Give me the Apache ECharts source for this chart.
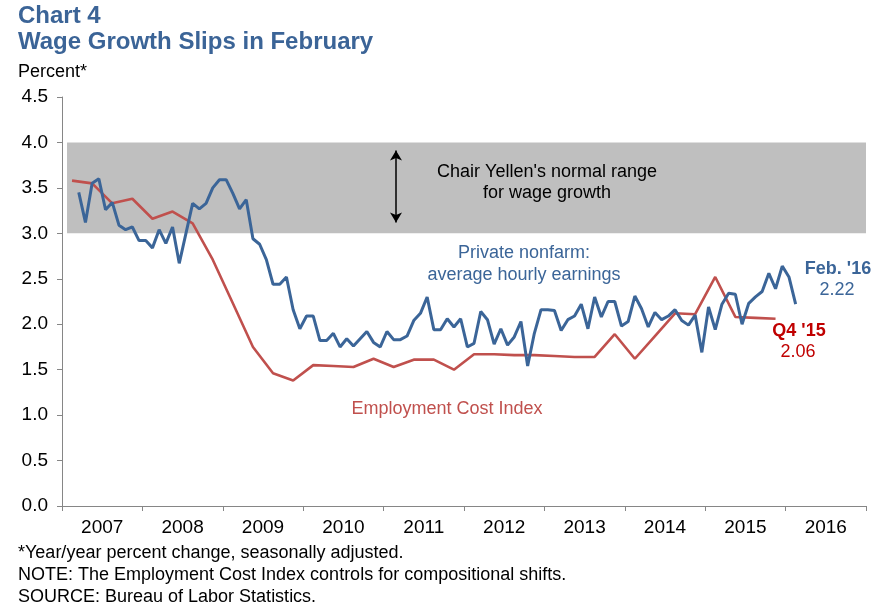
<!DOCTYPE html>
<html>
<head>
<meta charset="utf-8">
<style>
  html, body { margin: 0; padding: 0; background: #fff; }
  #chart { width: 891px; height: 616px; }
</style>
<script src="https://cdn.jsdelivr.net/npm/echarts@6/dist/echarts.min.js"></script>
</head>
<body>
<div id="chart"></div>
<script>
// Year labels on the x axis
const years = ['2007','2008','2009','2010','2011','2012','2013','2014','2015','2016'];

// Private nonfarm average hourly earnings, y/y % — monthly, Mar 2007 .. Feb 2016
const aheStart = { year: 2007, month: 3 };
const aheValues = [
  3.45, 3.12, 3.55, 3.60, 3.26, 3.34, 3.09, 3.04, 3.07, 2.92,             // 2007 Mar-Dec
  2.92, 2.84, 3.04, 2.89, 3.07, 2.67, 3.00, 3.33, 3.27, 3.33, 3.50, 3.59, // 2008
  3.59, 3.44, 3.27, 3.37, 2.94, 2.88, 2.71, 2.44, 2.44, 2.52, 2.16, 1.95, // 2009
  2.09, 2.09, 1.82, 1.82, 1.90, 1.75, 1.84, 1.76, 1.84, 1.92, 1.80, 1.75, // 2010
  1.92, 1.83, 1.83, 1.87, 2.04, 2.12, 2.30, 1.94, 1.94, 2.06, 1.97, 2.06, // 2011
  1.75, 1.79, 2.14, 2.05, 1.78, 1.95, 1.77, 1.86, 2.03, 1.54, 1.90, 2.16, // 2012
  2.16, 2.15, 1.93, 2.05, 2.09, 2.22, 1.95, 2.30, 2.08, 2.25, 2.25, 1.98, // 2013
  2.03, 2.31, 2.17, 1.97, 2.13, 2.05, 2.09, 2.16, 2.04, 1.99, 2.10, 1.69, // 2014
  2.19, 1.94, 2.22, 2.34, 2.33, 2.00, 2.23, 2.30, 2.36, 2.56, 2.39, 2.64, // 2015
  2.52, 2.22                                                              // 2016 Jan-Feb
];

// Employment Cost Index, y/y % — quarterly, Q1 2007 .. Q4 2015 (plotted at mid-quarter month)
const eciStart = { year: 2007, quarter: 1 };
const eciValues = [
  3.58, 3.55, 3.33, 3.38,
  3.16, 3.24, 3.11, 2.71,
  2.23, 1.75, 1.46, 1.38,
  1.55, 1.54, 1.53, 1.62,
  1.53, 1.61, 1.61, 1.50,
  1.67, 1.67, 1.66, 1.66,
  1.65, 1.64, 1.64, 1.89,
  1.62, 1.87, 2.12, 2.11,
  2.52, 2.08, 2.07, 2.06
];

// Chair Yellen's normal range
const normalRange = [3.0, 4.0];

const FONT = '"Liberation Sans", Arial, sans-serif';
const BLUE = '#3b6598';
const RED = '#c0504d';
const DARKRED = '#c00000';
const TITLE_BLUE = '#3b6497';

// months since Jan 2007, centred in the month
function monthPos(year, month) { return (year - 2007) * 12 + (month - 1) + 0.5; }

const aheData = aheValues.map((v, i) => {
  const m = (aheStart.month - 1) + i;
  return [monthPos(aheStart.year + Math.floor(m / 12), (m % 12) + 1), v];
});
const eciData = eciValues.map((v, i) => {
  const q = (eciStart.quarter - 1) + i;
  const yr = eciStart.year + Math.floor(q / 4);
  const midMonth = (q % 4) * 3 + 2;
  return [monthPos(yr, midMonth), v];
});

const chart = echarts.init(document.getElementById('chart'), null, { renderer: 'canvas' });

const axisGrey = '#868686';

function txt(x, y, text, fill, font, extra) {
  return Object.assign({ type: 'text', x: x, y: y, z: 100, zlevel: 0,
    style: Object.assign({ text: text, fill: fill, font: font, textAlign: 'center', textVerticalAlign: 'middle' }, extra || {}) });
}

chart.setOption({
  animation: false,
  backgroundColor: '#ffffff',
  textStyle: { fontFamily: FONT },
  grid: { left: 62, right: 25, top: 97, bottom: 110, containLabel: false },
  xAxis: [
    {
      type: 'value', min: 0, max: 120, interval: 12, position: 'bottom',
      axisLine: { show: true, lineStyle: { color: axisGrey, width: 1 } },
      axisTick: { show: true, length: 5, lineStyle: { color: axisGrey } },
      axisLabel: { show: false },
      splitLine: { show: false }
    },
    {
      type: 'category', data: years, position: 'bottom', boundaryGap: true,
      axisLine: { show: false }, axisTick: { show: false },
      axisLabel: { color: '#000', fontSize: 19, fontFamily: FONT, margin: 12 },
      splitLine: { show: false }
    }
  ],
  yAxis: {
    type: 'value', min: 0, max: 4.5, interval: 0.5,
    axisLine: { show: true, lineStyle: { color: axisGrey, width: 1 } },
    axisTick: { show: true, length: 5, lineStyle: { color: axisGrey } },
    axisLabel: { color: '#000', fontSize: 19, fontFamily: FONT, margin: 14,
                 formatter: v => v.toFixed(1) },
    splitLine: { show: false }
  },
  series: [
    {
      type: 'line', name: 'Employment Cost Index', xAxisIndex: 0,
      data: eciData, showSymbol: false, symbol: 'none',
      lineStyle: { color: RED, width: 2.6 }, z: 3,
      markArea: {
        silent: true,
        itemStyle: { color: '#bfbfbf' },
        data: [[{ xAxis: 0.75, yAxis: normalRange[0] }, { xAxis: 120, yAxis: normalRange[1] }]]
      },
      markLine: {
        silent: true,
        symbol: ['arrow', 'arrow'],
        symbolSize: [9, 10],
        label: { show: false },
        lineStyle: { color: '#000', width: 1.5, type: 'solid' },
        data: [[{ coord: [49.85, 3.91] }, { coord: [49.85, 3.12] }]]
      }
    },
    {
      type: 'line', name: 'Private nonfarm: average hourly earnings', xAxisIndex: 0,
      data: aheData, showSymbol: false, symbol: 'none',
      lineStyle: { color: BLUE, width: 3 }, z: 4
    }
  ],
  graphic: [
    txt(18, 16, 'Chart 4', TITLE_BLUE, 'bold 24px ' + FONT, { textAlign: 'left' }),
    txt(18, 42, 'Wage Growth Slips in February', TITLE_BLUE, 'bold 24px ' + FONT, { textAlign: 'left' }),
    txt(18, 72, 'Percent*', '#000', '18px ' + FONT, { textAlign: 'left' }),

    txt(547, 172, "Chair Yellen's normal range", '#000', '18px ' + FONT),
    txt(547, 193, 'for wage growth', '#000', '18px ' + FONT),

    txt(524, 253, 'Private nonfarm:', BLUE, '18px ' + FONT),
    txt(524, 275, 'average hourly earnings', BLUE, '18px ' + FONT),

    txt(447, 409, 'Employment Cost Index', RED, '18px ' + FONT),

    txt(838, 269, "Feb. '16", BLUE, 'bold 18px ' + FONT),
    txt(837, 290, '2.22', BLUE, '18px ' + FONT),

    txt(799, 331, "Q4 '15", DARKRED, 'bold 18px ' + FONT),
    txt(798, 352, '2.06', DARKRED, '18px ' + FONT),

    txt(18, 553, '*Year/year percent change, seasonally adjusted.', '#000', '18px ' + FONT, { textAlign: 'left' }),
    txt(18, 575, 'NOTE: The Employment Cost Index controls for compositional shifts.', '#000', '18px ' + FONT, { textAlign: 'left' }),
    txt(18, 597, 'SOURCE: Bureau of Labor Statistics.', '#000', '18px ' + FONT, { textAlign: 'left' })
  ]
});
</script>
</body>
</html>
